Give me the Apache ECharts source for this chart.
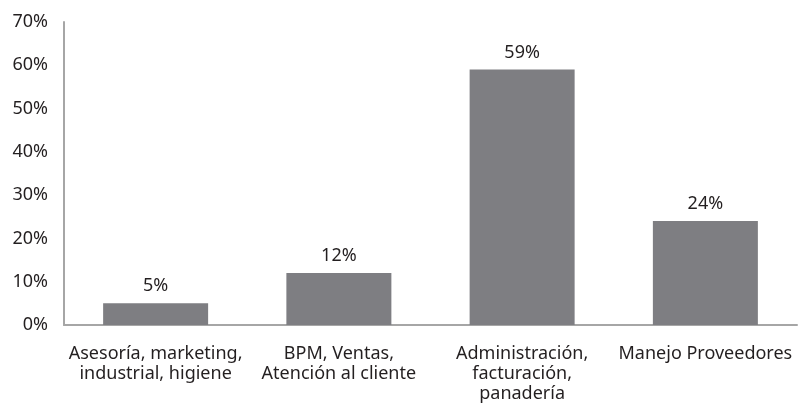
<!DOCTYPE html>
<html>
<head>
<meta charset="utf-8">
<script src="https://cdn.jsdelivr.net/npm/echarts@6/dist/echarts.min.js"></script>
<style>
  html, body { margin: 0; padding: 0; background: #fff; }
  #chart { width: 804px; height: 405px; }
</style>
</head>
<body>
<div id="chart"></div>
<script>
var categories = ['Asesoría, marketing,\nindustrial, higiene', 'BPM, Ventas,\nAtención al cliente', 'Administración,\nfacturación,\npanadería', 'Manejo Proveedores'];
var values = [5, 12, 59, 24];
var yTicks = [0, 10, 20, 30, 40, 50, 60, 70];

var chart = echarts.init(document.getElementById('chart'));
var textColor = '#231f20';
var font = 'Noto Sans';

var option = {
  animation: false,
  grid: { left: 64, right: 7, top: 22, bottom: 80 },
  xAxis: {
    type: 'category',
    data: categories,
    axisLine: { lineStyle: { color: '#a6a6a6', width: 2 } },
    axisTick: { show: false },
    axisLabel: {
      color: textColor, fontFamily: font, fontSize: 18,
      lineHeight: 20, margin: 19, interval: 0
    }
  },
  yAxis: {
    type: 'value',
    min: yTicks[0],
    max: yTicks[yTicks.length - 1],
    interval: 10,
    splitLine: { show: false },
    axisLine: { show: true, lineStyle: { color: '#a6a6a6', width: 2 } },
    axisTick: { show: false },
    axisLabel: {
      color: textColor, fontFamily: font, fontSize: 18, margin: 16,
      formatter: '{value}%'
    }
  },
  series: [{
    type: 'bar',
    data: values,
    barWidth: 105,
    itemStyle: { color: '#7e7e82' },
    label: {
      show: true, position: 'top', distance: 8,
      color: textColor, fontFamily: font, fontSize: 18,
      formatter: '{c}%'
    }
  }]
};
chart.setOption(option);
</script>
</body>
</html>
